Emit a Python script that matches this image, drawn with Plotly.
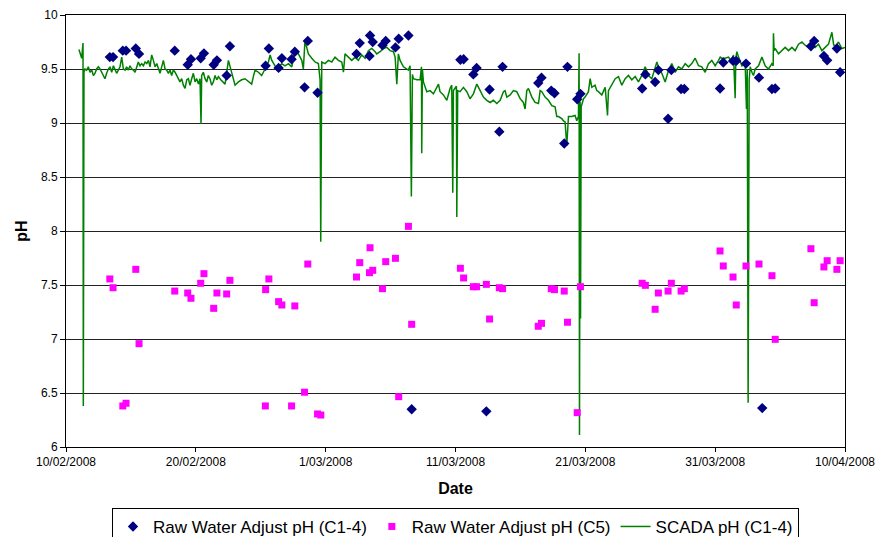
import pandas as pd
import plotly.graph_objects as go

# ---------------- data ----------------
c14_time = [
    "2008-02-13 09:00", "2008-02-13 15:00", "2008-02-14 09:00", "2008-02-14 15:00",
    "2008-02-15 09:00", "2008-02-15 15:00", "2008-02-18 09:00", "2008-02-19 09:00",
    "2008-02-19 15:00", "2008-02-20 09:00", "2008-02-20 15:00", "2008-02-21 09:00",
    "2008-02-21 15:00", "2008-02-22 09:00", "2008-02-22 15:00", "2008-02-25 09:00",
    "2008-02-25 15:00", "2008-02-26 09:00", "2008-02-26 15:00", "2008-02-27 09:00",
    "2008-02-27 15:00", "2008-02-28 09:00", "2008-02-28 15:00", "2008-02-29 09:00",
    "2008-03-03 09:00", "2008-03-03 15:00", "2008-03-04 09:00", "2008-03-04 10:00",
    "2008-03-04 15:00", "2008-03-05 09:00", "2008-03-05 15:00", "2008-03-06 09:00",
    "2008-03-06 15:00", "2008-03-07 09:00", "2008-03-07 15:00", "2008-03-11 09:00",
    "2008-03-11 15:00", "2008-03-12 09:00", "2008-03-12 15:00", "2008-03-13 09:00",
    "2008-03-13 15:00", "2008-03-14 09:00", "2008-03-14 15:00", "2008-03-17 09:00",
    "2008-03-17 15:00", "2008-03-18 09:00", "2008-03-18 15:00", "2008-03-19 09:00",
    "2008-03-19 15:00", "2008-03-20 09:00", "2008-03-20 15:00", "2008-03-25 09:00",
    "2008-03-25 15:00", "2008-03-26 09:00", "2008-03-26 15:00", "2008-03-27 09:00",
    "2008-03-27 15:00", "2008-03-28 09:00", "2008-03-28 15:00", "2008-03-31 09:00",
    "2008-03-31 15:00", "2008-04-01 09:00", "2008-04-01 15:00", "2008-04-02 09:00",
    "2008-04-03 09:00", "2008-04-03 15:00", "2008-04-04 09:00", "2008-04-04 15:00",
    "2008-04-07 09:00", "2008-04-07 15:00", "2008-04-08 09:00", "2008-04-08 15:00",
    "2008-04-09 09:00", "2008-04-09 15:00",
]
c14_ph = [
    9.61, 9.61, 9.67, 9.67, 9.69, 9.64, 9.67, 9.54, 9.59, 9.60, 9.645, 9.54, 9.58,
    9.44, 9.71, 9.53, 9.69, 9.51, 9.60, 9.59, 9.66, 9.33, 9.76, 9.28,
    9.64, 9.74, 9.62, 9.81, 9.75, 9.72, 9.76, 9.70, 9.78, 9.81, 6.35,
    9.585, 9.59, 9.45, 9.51, 6.33, 9.31, 8.92, 9.52, 9.37, 9.42, 9.30, 9.275,
    8.81, 9.52, 9.22, 9.27, 9.32, 9.45, 9.38, 9.49, 9.04, 9.49, 9.315, 9.315,
    9.32, 9.56, 9.575, 9.575, 9.55, 9.42, 6.36, 9.315, 9.32, 9.71, 9.76, 9.62,
    9.58, 9.69, 9.47,
]

c5_time = [
    "2008-02-13 09:00", "2008-02-13 15:00", "2008-02-14 09:00", "2008-02-14 15:00",
    "2008-02-15 09:00", "2008-02-15 15:00", "2008-02-18 09:00", "2008-02-19 09:00",
    "2008-02-19 15:00", "2008-02-20 09:00", "2008-02-20 15:00", "2008-02-21 09:00",
    "2008-02-21 15:00", "2008-02-22 09:00", "2008-02-22 15:00", "2008-02-25 08:30",
    "2008-02-25 09:00", "2008-02-25 15:00", "2008-02-26 09:00", "2008-02-26 15:00",
    "2008-02-27 09:00", "2008-02-27 15:00", "2008-02-28 09:00", "2008-02-28 15:00",
    "2008-02-29 09:00", "2008-02-29 15:00", "2008-03-03 09:00", "2008-03-03 15:00",
    "2008-03-04 09:00", "2008-03-04 10:00", "2008-03-04 15:00", "2008-03-05 09:00",
    "2008-03-05 15:00", "2008-03-06 09:00", "2008-03-06 15:00", "2008-03-07 09:00",
    "2008-03-07 15:00", "2008-03-11 09:00", "2008-03-11 15:00", "2008-03-12 09:00",
    "2008-03-12 15:00", "2008-03-13 09:00", "2008-03-13 15:00", "2008-03-14 09:00",
    "2008-03-14 15:00", "2008-03-17 09:00", "2008-03-17 15:00", "2008-03-18 09:00",
    "2008-03-18 15:00", "2008-03-19 09:00", "2008-03-19 15:00", "2008-03-20 09:00",
    "2008-03-20 15:00", "2008-03-25 09:00", "2008-03-25 15:00", "2008-03-26 09:00",
    "2008-03-26 15:00", "2008-03-27 09:00", "2008-03-27 15:00", "2008-03-28 09:00",
    "2008-03-28 15:00", "2008-03-31 09:00", "2008-03-31 15:00", "2008-04-01 09:00",
    "2008-04-01 15:00", "2008-04-02 09:00", "2008-04-03 09:00", "2008-04-04 09:00",
    "2008-04-04 15:00", "2008-04-07 09:00", "2008-04-07 15:00", "2008-04-08 09:00",
    "2008-04-08 15:00", "2008-04-09 09:00", "2008-04-09 15:00",
]
c5_ph = [
    7.556, 7.475, 6.38, 6.405, 7.645, 6.957, 7.444, 7.426, 7.377, 7.516, 7.605,
    7.284, 7.426, 7.417, 7.543, 6.38, 7.457, 7.556, 7.346, 7.315, 6.38, 7.306,
    6.507, 7.694, 6.306, 6.296, 7.574, 7.707, 7.614, 7.845, 7.636, 7.466, 7.716,
    7.747, 6.466, 8.043, 7.136, 7.655, 7.565, 7.484, 7.484, 7.506, 7.185, 7.475,
    7.466, 7.118, 7.145, 7.466, 7.457, 7.444, 7.155, 6.318, 7.484, 7.516, 7.497,
    7.275, 7.426, 7.444, 7.516, 7.444, 7.466, 7.815, 7.676, 7.574, 7.315, 7.676,
    7.694, 7.586, 6.997, 7.836, 7.336, 7.667, 7.725, 7.645, 7.725,
]

# SCADA logger: days since 10/02/2008 00:00 and pH
scada_day = [
    1.00, 1.08, 1.21, 1.31, 1.335, 1.385, 1.46, 1.59, 1.72, 1.85, 1.98, 2.11, 2.23,
    2.36, 2.49, 2.62, 2.75, 2.88, 3.00, 3.13, 3.26, 3.39, 3.52, 3.65, 3.78, 3.90,
    4.03, 4.16, 4.29, 4.42, 4.55, 4.67, 4.80, 4.93, 5.06, 5.19, 5.32, 5.45, 5.57,
    5.70, 5.83, 5.96, 6.09, 6.22, 6.35, 6.47, 6.60, 6.73, 6.86, 6.99, 7.12, 7.24,
    7.37, 7.50, 7.63, 7.76, 7.89, 8.01, 8.14, 8.27, 8.40, 8.53, 8.66, 8.78, 8.91,
    9.04, 9.17, 9.30, 9.43, 9.55, 9.68, 9.81, 9.94, 10.07, 10.20, 10.32, 10.40,
    10.45, 10.58, 10.71, 10.84, 10.96, 11.09, 11.22, 11.35, 11.48, 11.61, 11.74,
    11.92, 12.25, 12.51, 12.63, 12.76, 12.89, 13.02, 13.28, 13.53, 13.79, 14.05,
    14.30, 14.43, 14.56, 14.82, 15.07, 15.33, 15.59, 15.72, 15.85, 16.10, 16.23,
    16.36, 16.62, 16.87, 17.13, 17.39, 17.64, 17.90, 18.16, 18.28, 18.41, 18.54,
    18.67, 18.93, 19.18, 19.44, 19.57, 19.62, 19.67, 19.70, 19.95, 20.21, 20.47,
    20.72, 20.98, 21.24, 21.37, 21.49, 21.75, 22.01, 22.27, 22.52, 22.78, 23.04,
    23.29, 23.55, 23.81, 23.93, 24.19, 24.45, 24.71, 24.96, 25.22, 25.35, 25.48,
    25.60, 25.73, 25.99, 26.25, 26.37, 26.50, 26.60, 26.68, 26.76, 27.02, 27.27,
    27.38, 27.40, 27.45, 27.53, 27.79, 28.04, 28.30, 28.56, 28.69, 28.81, 29.07,
    29.33, 29.58, 29.71, 29.79, 29.84, 29.97, 30.07, 30.10, 30.17, 30.35, 30.61,
    30.87, 31.12, 31.38, 31.64, 31.90, 32.15, 32.41, 32.67, 32.92, 33.18, 33.44,
    33.69, 33.82, 33.95, 34.21, 34.46, 34.72, 34.98, 35.23, 35.36, 35.49, 35.62,
    35.88, 36.13, 36.39, 36.52, 36.65, 36.90, 37.16, 37.42, 37.67, 37.80, 37.93,
    38.19, 38.32, 38.44, 38.57, 38.70, 38.96, 39.21, 39.34, 39.47, 39.52, 39.55,
    39.60, 39.63, 39.68, 39.73, 39.86, 39.98, 40.24, 40.37, 40.50, 40.75, 40.88,
    41.01, 41.27, 41.53, 41.71, 41.78, 42.04, 42.30, 42.55, 42.81, 43.07, 43.32,
    43.58, 43.84, 44.09, 44.35, 44.61, 44.86, 45.12, 45.38, 45.51, 45.63, 45.89,
    46.15, 46.41, 46.66, 46.92, 47.17, 47.43, 47.69, 47.95, 48.20, 48.46, 48.72,
    48.97, 49.23, 49.49, 49.74, 50.00, 50.26, 50.39, 50.51, 50.77, 51.03, 51.28,
    51.41, 51.54, 51.59, 51.67, 51.80, 52.06, 52.31, 52.41, 52.47, 52.54, 52.62,
    52.70, 52.83, 52.95, 53.08, 53.34, 53.60, 53.85, 54.11, 54.37, 54.47, 54.49,
    54.54, 54.62, 54.88, 55.14, 55.39, 55.65, 55.91, 56.16, 56.42, 56.68, 56.93,
    57.19, 57.45, 57.70, 57.96, 58.22, 58.48, 58.73, 58.99, 59.12, 59.24, 59.50,
    59.76, 60.02,
]
scada_ph = [
    9.68, 9.64, 9.60, 9.74, 6.38, 9.47, 9.50, 9.49, 9.52, 9.47, 9.49, 9.44, 9.46,
    9.50, 9.52, 9.50, 9.47, 9.44, 9.41, 9.46, 9.50, 9.52, 9.47, 9.53, 9.49, 9.46,
    9.49, 9.52, 9.61, 9.50, 9.49, 9.52, 9.49, 9.53, 9.50, 9.49, 9.47, 9.52, 9.565,
    9.53, 9.55, 9.53, 9.565, 9.55, 9.58, 9.52, 9.63, 9.58, 9.52, 9.55, 9.49, 9.46,
    9.52, 9.58, 9.50, 9.49, 9.46, 9.49, 9.44, 9.49, 9.47, 9.44, 9.41, 9.38, 9.41,
    9.35, 9.32, 9.40, 9.41, 9.35, 9.41, 9.46, 9.38, 9.41, 9.36, 9.41, 8.99,
    9.44, 9.47, 9.41, 9.38, 9.44, 9.41, 9.35, 9.38, 9.44, 9.40, 9.43,
    9.40, 9.36, 9.58, 9.53, 9.46, 9.41, 9.35, 9.38, 9.40, 9.41, 9.38,
    9.36, 9.43, 9.49, 9.47, 9.44, 9.50, 9.565, 9.63, 9.58, 9.53, 9.49,
    9.52, 9.55, 9.53, 9.55, 9.52, 9.67, 9.64, 9.58, 9.50, 9.765, 9.70,
    9.64, 9.60, 9.565, 9.55, 9.40, 7.90, 9.50, 9.565, 9.55, 9.58, 9.565,
    9.61, 9.58, 9.565, 9.47, 9.64, 9.61, 9.58, 9.61, 9.58, 9.63, 9.60,
    9.67, 9.69, 9.66, 9.64, 9.66, 9.69, 9.70, 9.67, 9.66, 9.61, 9.36,
    9.64, 9.58, 9.52, 9.50, 9.49, 9.53, 8.32, 9.45, 9.41, 9.40, 9.40,
    9.52, 8.72, 9.50, 9.38, 9.29, 9.30, 9.27, 9.33, 9.36, 9.29, 9.26,
    9.21, 9.32, 9.35, 8.355, 9.30, 9.32, 9.34, 8.13, 9.30, 9.29, 9.33,
    9.29, 9.225, 9.27, 9.36, 9.30, 9.24, 9.21, 9.19, 9.21, 9.18, 9.21,
    9.29, 9.30, 9.24, 9.26, 9.30, 9.29, 9.225, 9.19, 9.13, 9.30, 9.32,
    9.24, 9.19, 9.18, 9.30, 9.29, 9.24, 9.21, 9.16, 9.15, 9.06, 9.06,
    9.04, 9.02, 9.01, 8.79, 9.06, 9.06, 9.07, 9.02, 9.06, 9.645, 6.11,
    9.20, 7.19, 9.15, 9.18, 9.225, 9.24, 9.29, 9.41, 9.33, 9.35, 9.30,
    9.29, 9.26, 9.33, 9.07, 9.30, 9.35, 9.41, 9.43, 9.35, 9.41, 9.44,
    9.40, 9.43, 9.38, 9.44, 9.52, 9.44, 9.41, 9.50, 9.565, 9.52, 9.46,
    9.38, 9.49, 9.55, 9.47, 9.52, 9.50, 9.55, 9.52, 9.55, 9.60, 9.53,
    9.52, 9.47, 9.55, 9.58, 9.53, 9.58, 9.61, 9.60, 9.60, 9.61, 9.565,
    9.63, 9.23, 9.60, 9.66, 9.61, 9.53, 9.55, 9.13, 9.50, 6.41, 9.40,
    9.52, 9.47, 9.44, 9.50, 9.53, 9.61, 9.53, 9.50, 9.55, 9.53, 9.83,
    9.67, 9.69, 9.64, 9.67, 9.70, 9.67, 9.70, 9.67, 9.73, 9.75, 9.72,
    9.70, 9.73, 9.70, 9.73, 9.67, 9.70, 9.73, 9.84, 9.73, 9.70, 9.75,
    9.69, 9.70,
]

x_tick_vals = ["2008-02-10", "2008-02-20", "2008-03-01", "2008-03-11",
               "2008-03-21", "2008-03-31", "2008-04-10"]
x_tick_text = ["10/02/2008", "20/02/2008", "1/03/2008", "11/03/2008",
               "21/03/2008", "31/03/2008", "10/04/2008"]

# ---------------- figure ----------------
scada_time = pd.Timestamp("2008-02-10") + pd.to_timedelta(scada_day, unit="D")
FONT = "Arial, Liberation Sans, sans-serif"

fig = go.Figure()
fig.add_trace(go.Scatter(
    x=scada_time, y=scada_ph, mode="lines", name="SCADA pH (C1-4)",
    line=dict(color="#008000", width=1.5), legendrank=3,
))
fig.add_trace(go.Scatter(
    x=pd.to_datetime(c14_time), y=c14_ph, mode="markers",
    name="Raw Water Adjust pH (C1-4)",
    marker=dict(symbol="diamond", size=8, color="#000080"), legendrank=1,
))
fig.add_trace(go.Scatter(
    x=pd.to_datetime(c5_time), y=c5_ph, mode="markers",
    name="Raw Water Adjust pH (C5)",
    marker=dict(symbol="square", size=7, color="#FF00FF"), legendrank=2,
))

fig.update_layout(
    width=877, height=537,
    margin=dict(l=66, r=32, t=15, b=90, autoexpand=False),
    paper_bgcolor="white", plot_bgcolor="white",
    font=dict(family=FONT, size=12, color="black"),
    showlegend=True,
    legend=dict(
        orientation="h", x=0.5, xanchor="center", y=-0.141, yanchor="top",
        bordercolor="black", borderwidth=1, bgcolor="white",
        font=dict(family=FONT, size=17, color="black"),
        traceorder="normal", itemwidth=30,
    ),
)
fig.update_xaxes(
    range=["2008-02-10", "2008-04-10"],
    tickmode="array", tickvals=x_tick_vals, ticktext=x_tick_text,
    showgrid=False, showline=True, linecolor="black", linewidth=1, mirror=True,
    ticks="outside", ticklen=4, tickcolor="black",
    tickfont=dict(family=FONT, size=12),
    title=dict(text="<b>Date</b>", font=dict(family=FONT, size=16), standoff=14),
)
fig.update_yaxes(
    range=[6, 10], dtick=0.5, tick0=6,
    showgrid=True, gridcolor="#222222", gridwidth=1,
    showline=True, linecolor="black", linewidth=1, mirror=True,
    ticks="outside", ticklen=5, tickcolor="black",
    tickfont=dict(family=FONT, size=12),
    title=dict(text="<b>pH</b>", font=dict(family=FONT, size=16), standoff=9),
    zeroline=False,
)

fig.write_html(
    "out.html",
    config={"displayModeBar": False},
    post_script="document.body.style.margin='0';document.body.style.overflow='hidden';",
)
